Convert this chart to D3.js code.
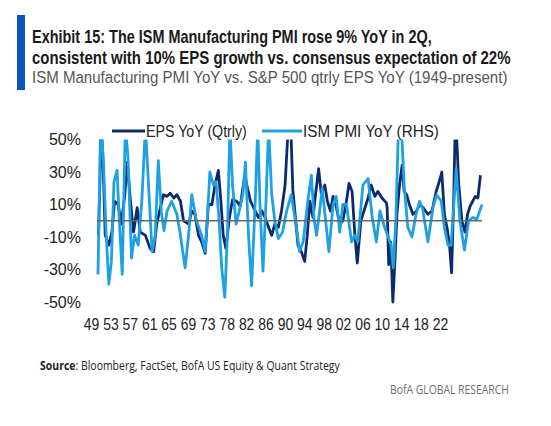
<!DOCTYPE html>
<html>
<head>
<meta charset="utf-8">
<script src="https://cdn.jsdelivr.net/npm/d3@7"></script>
<style>
  body { margin: 0; background: #fff; }
  svg { display: block; }
</style>
</head>
<body>
<script>
// values, [year, % YoY]
var epsYoY = [[1949.1,-9],[1949.4,28],[1949.65,58],[1950.0,34],[1950.4,-9],[1951.1,-15],[1951.7,-7],[1952.2,12],[1952.9,10],[1953.5,-2],
  [1954.2,16],[1954.7,36],[1955.3,12],[1955.9,-7],[1956.6,8],[1957.2,-7],[1958.2,-9],[1959.1,-17],[1959.8,-19],[1960.4,-2],
  [1961.1,8],[1961.7,16],[1962.4,15],[1963.0,17],[1963.7,14],[1964.3,16],[1965.0,12],[1965.6,0],[1966.6,-2],[1967.2,6],
  [1967.8,4],[1968.5,-9],[1969.1,-13],[1969.8,-20],[1970.4,10],[1971.1,10],[1971.7,22],[1972.35,31],[1972.8,14],[1973.3,-9],
  [1973.8,-17],[1974.5,2],[1975.1,13],[1975.9,12],[1976.6,9],[1977.1,20],[1977.5,28],[1978.0,20],[1978.6,12],[1979.5,6],
  [1980.1,2],[1980.8,6],[1981.4,2],[1982.1,-4],[1982.7,-9],[1983.3,-2],[1984.0,-4],[1984.6,6],[1985.3,22],[1985.9,58],
  [1986.4,58],[1986.8,19],[1987.3,2],[1987.8,-15],[1988.45,-19],[1989.1,-25],[1989.6,-9],[1990.1,12],[1990.7,2],[1991.2,16],
  [1991.8,32],[1992.3,17],[1993.0,22],[1993.5,12],[1994.1,6],[1994.6,15],[1995.2,9],[1995.9,-2],[1996.5,0],[1997.2,12],
  [1997.7,23],[1998.3,18],[1998.8,-7],[1999.3,-26],[2000.0,0],[2000.6,6],[2001.4,14],[2002.0,22],[2002.7,15],[2003.3,18],
  [2004.1,14],[2004.95,11],[2005.1,8],[2005.4,-27],[2005.8,-13],[2006.2,-50],[2006.6,-25],[2007.0,4],[2007.5,22],[2008.0,34],
  [2008.4,18],[2008.9,16],[2009.4,10],[2010.1,4],[2010.8,6],[2011.4,10],[2012.1,8],[2013.0,4],[2013.8,6],[2014.6,18],
  [2015.2,24],[2015.7,30],[2016.2,4],[2016.7,-4],[2017.2,-15],[2017.6,-32],[2018.0,12],[2018.3,58],[2018.6,50],[2019.0,22],
  [2019.6,0],[2020.2,-7],[2020.7,4],[2021.2,9],[2021.7,12],[2022.2,15],[2022.7,14],[2023.2,28]];

var ismYoY = [[1949.0,-33],[1949.5,60],[1950.0,40],[1950.6,-9],[1951.1,-39],[1951.6,-25],[1952.1,24],[1952.7,31],[1953.1,2],[1953.7,-33],
  [1954.3,58],[1954.8,40],[1955.5,-23],[1956.1,-9],[1956.8,-15],[1957.5,12],[1958.2,58],[1958.8,22],[1959.5,-19],[1960.1,-9],
  [1960.7,37],[1961.3,5],[1961.8,-6],[1962.4,6],[1963.3,12],[1964.3,4],[1964.9,-7],[1965.9,-29],[1966.6,-8],[1967.2,16],
  [1968.1,0],[1969.1,-9],[1969.8,-19],[1970.4,12],[1970.7,30],[1971.4,22],[1971.9,24],[1972.5,0],[1973.0,-29],[1973.6,-47],
  [1974.1,-9],[1974.6,58],[1975.1,22],[1975.8,-2],[1976.4,6],[1977.1,16],[1977.6,36],[1978.2,-9],[1978.8,-40],[1979.5,12],
  [1980.0,58],[1980.4,12],[1981.0,-31],[1981.6,12],[1982.1,58],[1982.7,16],[1983.3,0],[1984.0,-11],[1984.8,-7],[1985.6,6],
  [1986.5,16],[1987.5,-4],[1988.1,-19],[1988.8,-13],[1989.7,12],[1990.4,28],[1990.9,2],[1991.4,-9],[1992.0,6],[1992.5,20],
  [1993.1,2],[1993.8,-19],[1994.6,10],[1995.2,15],[1995.9,-7],[1996.5,10],[1997.2,10],[1998.2,-13],[1998.8,-9],[1999.4,-13],
  [2000.4,22],[2001.4,26],[2002.2,2],[2003.0,-13],[2003.7,6],[2004.6,-4],[2005.2,-9],[2005.85,-15],[2006.3,-29],[2006.8,2],
  [2007.3,58],[2007.9,55],[2008.4,22],[2009.1,-4],[2009.9,-10],[2010.7,4],[2011.4,12],[2012.0,7],[2013.0,-13],[2014.0,8],
  [2014.7,16],[2015.6,12],[2016.2,-4],[2016.9,-15],[2017.5,-15],[2018.5,32],[2019.2,0],[2020.1,-18],[2020.9,0],[2021.7,2],
  [2022.5,1],[2023.5,10]];

var yTicks = [50, 30, 10, -10, -30, -50];
var xLabels = ['49','53','57','61','65','69','73','78','82','86','90','94','98','02','06','10','14','18','22'];
var seriesNames = ['EPS YoY (Qtrly)', 'ISM PMI YoY (RHS)'];

var dark = '#0c2a6e', light = '#1da1e2';

var svg = d3.select('body').append('svg')
  .attr('width', 551)
  .attr('height', 426);

svg.append('rect').attr('width', 551).attr('height', 426).attr('fill', '#fff');

// squeeze a text horizontally so it spans `w` pixels from (x, y)
function fit(sel, x, y, w) {
  var nat = sel.node().getComputedTextLength();
  sel.attr('x', 0).attr('y', 0)
    .attr('transform', `translate(${x},${y}) scale(${w / nat},1)`);
  return sel;
}

// header
svg.append('rect')
  .attr('x', 17).attr('y', 15).attr('width', 8).attr('height', 75)
  .attr('fill', '#0a51c1');

var titleFont = "'Liberation Sans', Arial, sans-serif";
var t1 = svg.append('text')
  .style('font-family', titleFont).style('font-weight', 700).style('font-size', '18px')
  .attr('fill', '#1a1a1a')
  .text('Exhibit 15: The ISM Manufacturing PMI rose 9% YoY in 2Q,');
fit(t1, 32, 42.5, 400);

var t2 = svg.append('text')
  .style('font-family', titleFont).style('font-weight', 700).style('font-size', '18px')
  .attr('fill', '#1a1a1a')
  .text('consistent with 10% EPS growth vs. consensus expectation of 22%');
fit(t2, 32, 63.5, 479);

var t3 = svg.append('text')
  .style('font-family', titleFont).style('font-size', '17px')
  .attr('fill', '#555')
  .text('ISM Manufacturing PMI YoY vs. S&P 500 qtrly EPS YoY (1949-present)');
fit(t3, 32, 83, 476);

// scales
var x = d3.scaleLinear().domain([1949, 2023.5]).range([98, 482]);
var y = d3.scaleLinear().domain([-50, 50]).range([302, 139.5]);
var xLab = d3.scalePoint().domain(xLabels).range([91, 440]);

svg.append('clipPath').attr('id', 'plot')
  .append('rect')
  .attr('x', 90).attr('y', y(50))
  .attr('width', 400).attr('height', y(-50) - y(50) + 4);

var line = d3.line()
  .x(d => x(d[0]))
  .y(d => y(d[1]));

var plot = svg.append('g').attr('clip-path', 'url(#plot)');

plot.append('path')
  .datum(epsYoY)
  .attr('fill', 'none')
  .attr('stroke', dark)
  .attr('stroke-width', 2.8)
  .attr('stroke-linejoin', 'round')
  .attr('d', line);

plot.append('path')
  .datum(ismYoY)
  .attr('fill', 'none')
  .attr('stroke', light)
  .attr('stroke-width', 2.8)
  .attr('stroke-linejoin', 'round')
  .attr('d', line);

// zero line
svg.append('line')
  .attr('x1', x(1949) - 1).attr('x2', x(2023.5))
  .attr('y1', y(0)).attr('y2', y(0))
  .attr('stroke', '#666')
  .attr('stroke-width', 1.6);

// axes
var axisFont = "'Liberation Sans', Arial, sans-serif";
var yAxis = svg.append('g')
  .attr('transform', 'translate(81,0)')
  .call(d3.axisLeft(y).tickValues(yTicks).tickFormat(d => d + '%').tickSize(0).tickPadding(0));
yAxis.select('.domain').remove();
yAxis.selectAll('text')
  .style('font-family', axisFont).style('font-size', '16px').attr('fill', '#222');

var xAxis = svg.append('g')
  .attr('transform', 'translate(0,319)')
  .call(d3.axisBottom(xLab).tickSize(0).tickPadding(0));
xAxis.select('.domain').remove();
xAxis.selectAll('text')
  .style('font-family', axisFont).style('font-size', '16px').attr('fill', '#222')
  .attr('transform', 'scale(0.87,1)');

// legend
var legendX = [112, 262];
var legendW = [101, 136];
var legend = svg.selectAll('.legend')
  .data(seriesNames)
  .enter().append('g')
  .attr('class', 'legend')
  .attr('transform', (d, i) => `translate(${legendX[i]},131)`);

legend.append('line')
  .attr('x1', 0).attr('x2', (d, i) => i ? 40 : 33)
  .attr('y1', 0).attr('y2', 0)
  .attr('stroke', (d, i) => i ? light : dark)
  .attr('stroke-width', 2.8);

legend.append('text')
  .style('font-family', axisFont).style('font-size', '17px')
  .attr('fill', '#222')
  .text(d => d)
  .each(function(d, i) { fit(d3.select(this), i ? 41 : 34, 5.5, legendW[i]); });

// footer
var footFont = "'Open Sans', 'Liberation Sans', sans-serif";
var src = svg.append('text')
  .style('font-family', footFont).style('font-size', '13px')
  .attr('fill', '#222');
src.append('tspan').style('font-weight', 700).text('Source');
src.append('tspan').text(': Bloomberg, FactSet, BofA US Equity & Quant Strategy');
fit(src, 40, 370, 300);

var brand = svg.append('text')
  .style('font-family', footFont).style('font-size', '13px')
  .attr('fill', '#6d6d6d')
  .text('BofA GLOBAL RESEARCH');
fit(brand, 390, 394, 119);
</script>
</body>
</html>
